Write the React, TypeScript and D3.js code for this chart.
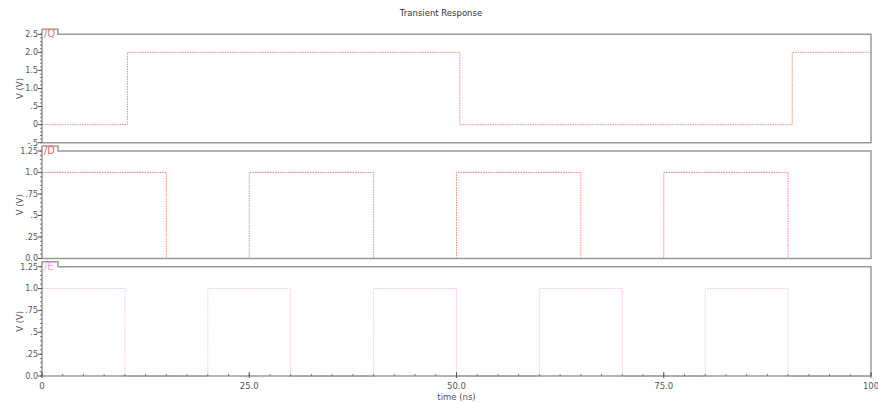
import React from "react";
import * as d3 from "d3";

const W = 878;
const H = 403;

const title = "Transient Response";
const xTicks = [0, 25, 50, 75, 100];
const xTickLabels = ["0", "25.0", "50.0", "75.0", "100"];
const xLabel = "time (ns)";

const qEdges = [0, 10.3, 50.4, 90.5];
const qLevels = [0, 2, 0, 2];
const dEdges = [0, 15, 25, 40, 50, 65, 75, 90];
const dLevels = [1, 0, 1, 0, 1, 0, 1, 0];
const eEdges = [0, 10, 20, 30, 40, 50, 60, 70, 80, 90];
const eLevels = [1, 0, 1, 0, 1, 0, 1, 0, 1, 0];

const q1Ticks = [-0.5, 0, 0.5, 1.0, 1.5, 2.0, 2.5];
const q1Labels = ["-.5", "0", ".5", "1.0", "1.5", "2.0", "2.5"];
const pTicks = [0, 0.25, 0.5, 0.75, 1.0, 1.25];
const pLabels = ["0.0", ".25", ".5", ".75", "1.0", "1.25"];

const X0 = 42;
const X1 = 871;

const x = d3.scaleLinear().domain([0, 100]).range([X0, X1]);

type Panel = {
  name: string;
  edges: number[];
  levels: number[];
  domain: [number, number];
  range: [number, number];
  ticks: number[];
  labels: string[];
  minor: number;
  color: string;
  labelColor: string;
  bottomBorder: boolean;
};

const panels: Panel[] = [
  {
    name: "/Q",
    edges: qEdges,
    levels: qLevels,
    domain: [-0.5, 2.5],
    range: [142.7, 34.3],
    ticks: q1Ticks,
    labels: q1Labels,
    minor: 0.1,
    color: "#ee8e80",
    labelColor: "#e8806e",
    bottomBorder: true,
  },
  {
    name: "/D",
    edges: dEdges,
    levels: dLevels,
    domain: [0, 1.25],
    range: [258.5, 151],
    ticks: pTicks,
    labels: pLabels,
    minor: 0.05,
    color: "#ff8282",
    labelColor: "#ff5a5a",
    bottomBorder: true,
  },
  {
    name: "/E",
    edges: eEdges,
    levels: eLevels,
    domain: [0, 1.25],
    range: [376, 266.7],
    ticks: pTicks,
    labels: pLabels,
    minor: 0.05,
    color: "#ffc0ea",
    labelColor: "#ffa0e4",
    bottomBorder: false,
  },
];

const font = "DejaVu Sans, sans-serif";

function PanelView({ p }: { p: Panel }) {
  const y = d3.scaleLinear().domain(p.domain).range(p.range);
  const pts: [number, number][] = p.edges.map((t, i) => [t, p.levels[i]]);
  pts.push([100, p.levels[p.levels.length - 1]]);
  const line = d3
    .line<[number, number]>()
    .x((d) => x(d[0]))
    .y((d) => y(d[1]))
    .curve(d3.curveStepAfter);
  const top = p.range[1];
  const bottom = p.range[0];
  const tabTop = top - 5;
  const tabRight = 58;
  const n = Math.round((p.domain[1] - p.domain[0]) / p.minor);
  const minors = d3.range(n + 1).map((i) => p.domain[0] + i * p.minor);
  const midY = (top + bottom) / 2;
  return (
    <g>
      <path d={line(pts) || ""} fill="none" stroke={p.color} strokeWidth={1} strokeDasharray="1.5,1" />
      <path
        d={`M${X0},${top} L${X0},${tabTop} L${tabRight},${tabTop} L${tabRight},${top} L${X1},${top} L${X1},${bottom}${
          p.bottomBorder ? ` L${X0},${bottom}` : ""
        }`}
        fill="none"
        stroke="#9a9a9a"
        strokeWidth={1.5}
      />
      <line x1={X0} x2={X0} y1={top} y2={bottom} stroke="#666" strokeWidth={1} />
      {minors.map((v, i) => (
        <line key={"m" + i} x1={X0 - 2} x2={X0} y1={y(v)} y2={y(v)} stroke="#777" strokeWidth={1} />
      ))}
      {p.ticks.map((v, i) => (
        <g key={"t" + i}>
          <line x1={X0 - 4} x2={X0} y1={y(v)} y2={y(v)} stroke="#555" strokeWidth={1} />
          <text
            x={X0 - 4}
            y={y(v)}
            dy="0.35em"
            textAnchor="end"
            fontSize={8}
            fill="#555"
            fontFamily={font}
          >
            {p.labels[i]}
          </text>
        </g>
      ))}
      <text
        transform={`translate(20,${midY}) rotate(-90)`}
        textAnchor="middle"
        dy="0.35em"
        fontSize={8.5}
        fill="#555"
        fontFamily={font}
      >
        V (V)
      </text>
      <text x={X0 + 2} y={top + 3} fontSize={10} fill={p.labelColor} fontFamily={font}>
        {p.name}
      </text>
    </g>
  );
}

export default function App() {
  const axisY = 376;
  const minorX = d3.range(41).map((i) => i * 2.5);
  return (
    <svg width={W} height={H} style={{ position: "absolute", left: 0, top: 0, background: "#fff" }}>
      <rect x={0} y={0} width={W} height={H} fill="#fff" />
      <text x={441} y={16} textAnchor="middle" fontSize={8.5} fill="#333" fontFamily={font}>
        {title}
      </text>
      {panels.map((p, i) => (
        <PanelView key={i} p={p} />
      ))}
      <line x1={X0} x2={X1} y1={axisY} y2={axisY} stroke="#666" strokeWidth={1} />
      {minorX.map((t, i) => (
        <line key={"xm" + i} x1={x(t)} x2={x(t)} y1={axisY - 2} y2={axisY} stroke="#777" strokeWidth={1} />
      ))}
      {xTicks.map((t, i) => (
        <g key={"xt" + i}>
          <line x1={x(t)} x2={x(t)} y1={axisY - 4} y2={axisY + 2} stroke="#555" strokeWidth={1} />
          <text x={x(t)} y={389} textAnchor="middle" fontSize={8.5} fill="#555" fontFamily={font}>
            {xTickLabels[i]}
          </text>
        </g>
      ))}
      <text x={x(50)} y={400} textAnchor="middle" fontSize={8.5} fill="#555" fontFamily={font}>
        {xLabel}
      </text>
    </svg>
  );
}
